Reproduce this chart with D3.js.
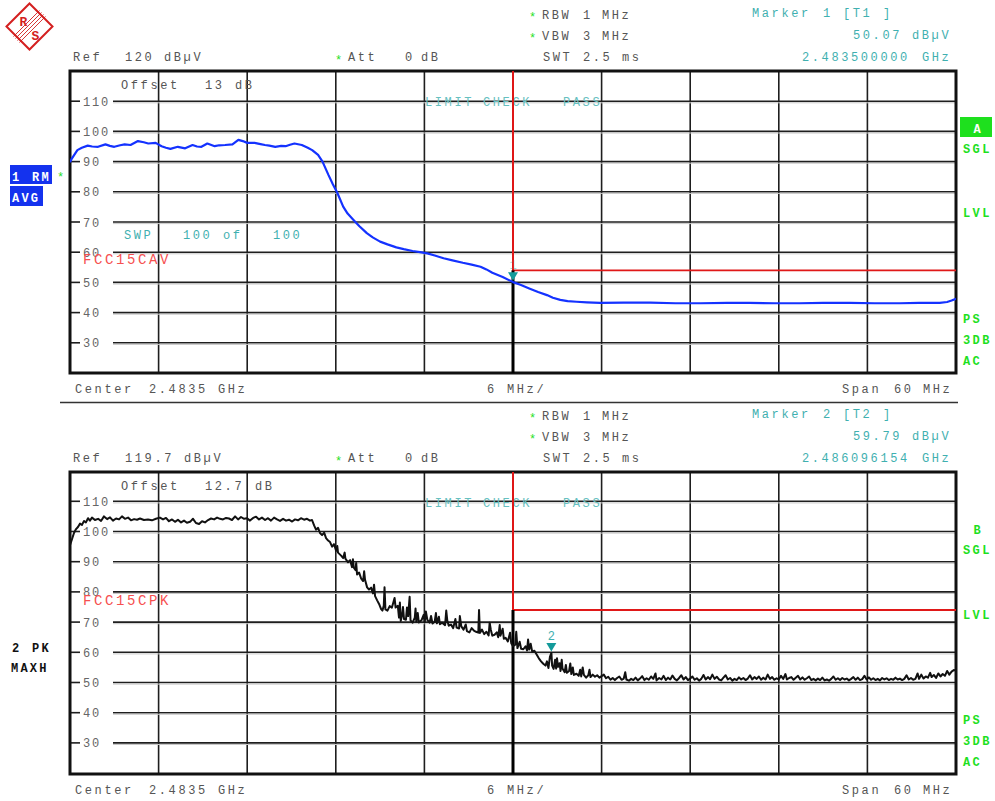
<!DOCTYPE html>
<html>
<head>
<meta charset="utf-8">
<script src="https://cdn.jsdelivr.net/npm/d3@7"></script>
<style>
  body { margin: 0; background: #fff; }
  svg text { font-family: "Liberation Mono", "DejaVu Sans Mono", monospace; white-space: pre; }
</style>
</head>
<body>
<div id="container"></div>
<script>
/* DATA */
const freqStart = 2453.5, freqStop = 2513.5;   // MHz, center 2483.5, span 60
const bandEdge = 2483.5;
const levelTicks = [30, 40, 50, 60, 70, 80, 90, 100, 110];

// trace 1: RM AVG (dBuV)
const avgTrace = [[2453.5,89.8],[2453.6,90.8],[2454.0,93.8],[2454.3,94.6],[2454.7,95.3],[2455.0,95.0],[2455.4,94.9],[2455.9,95.7],[2456.2,95.2],[2456.5,94.9],[2456.9,95.4],[2457.2,95.7],[2457.6,95.5],[2458.1,96.8],[2458.5,96.4],[2458.8,96.0],[2459.3,96.2],[2459.7,95.1],[2460.0,94.6],[2460.3,94.2],[2460.8,94.9],[2461.3,94.4],[2461.8,95.5],[2462.1,95.0],[2462.4,94.9],[2462.8,96.0],[2463.3,95.1],[2463.6,95.4],[2464.0,95.5],[2464.5,95.7],[2464.9,97.2],[2465.2,96.8],[2465.5,96.2],[2466.0,96.2],[2466.4,95.8],[2466.7,95.5],[2467.0,95.3],[2467.4,94.9],[2467.8,95.2],[2468.1,95.1],[2468.4,95.6],[2468.7,96.0],[2469.2,95.5],[2469.6,94.6],[2469.9,93.8],[2470.3,92.2],[2470.6,90.0],[2471.0,85.6],[2471.3,82.5],[2471.6,79.7],[2472.0,75.1],[2472.3,72.8],[2472.7,70.7],[2473.1,68.6],[2473.6,66.3],[2474.0,64.9],[2474.5,63.5],[2475.0,62.6],[2475.6,61.6],[2476.1,61.0],[2476.7,60.4],[2477.2,60.0],[2477.7,59.6],[2478.2,58.9],[2478.8,58.0],[2479.4,57.3],[2480.1,56.5],[2480.7,55.9],[2481.3,55.2],[2481.7,54.3],[2482.1,53.2],[2482.8,51.8],[2483.5,50.1],[2484.0,49.2],[2484.6,48.0],[2485.2,46.8],[2485.8,45.8],[2486.2,44.9],[2486.7,44.2],[2487.2,43.8],[2487.8,43.6],[2488.5,43.4],[2489.4,43.2],[2491.0,43.3],[2492.8,43.3],[2494.5,43.1],[2496.2,43.1],[2498.0,43.2],[2499.5,43.2],[2501.2,43.1],[2502.9,43.1],[2504.5,43.2],[2506.3,43.2],[2508.0,43.1],[2509.7,43.1],[2511.0,43.2],[2512.4,43.2],[2512.9,43.5],[2513.2,44.0],[2513.5,44.6]];

// trace 2: PK MAXH (dBuV)
const pkTrace = [[2453.50,95.5],[2453.64,97.5],[2453.77,99.5],[2453.91,100.8],[2454.04,101.5],[2454.18,102.6],[2454.31,102.2],[2454.45,103.5],[2454.58,103.0],[2454.72,104.4],[2454.85,103.6],[2454.99,104.6],[2455.19,103.8],[2455.40,104.2],[2455.60,103.5],[2455.80,105.0],[2456.01,104.1],[2456.21,104.7],[2456.41,103.6],[2456.62,104.3],[2456.82,104.0],[2457.02,105.0],[2457.22,104.2],[2457.43,104.6],[2457.63,103.7],[2457.84,104.1],[2458.04,103.9],[2458.24,104.3],[2458.51,103.8],[2458.78,104.0],[2459.05,103.7],[2459.32,104.2],[2459.59,104.6],[2459.80,104.0],[2460.00,104.5],[2460.20,103.4],[2460.41,104.0],[2460.61,103.2],[2460.81,103.9],[2461.02,103.0],[2461.22,103.6],[2461.42,102.9],[2461.63,103.2],[2461.83,104.2],[2462.03,102.8],[2462.24,102.5],[2462.44,103.4],[2462.64,103.0],[2462.85,103.8],[2463.05,104.3],[2463.26,104.0],[2463.46,104.6],[2463.66,104.2],[2463.86,104.0],[2464.07,104.5],[2464.27,104.3],[2464.47,103.8],[2464.68,105.0],[2464.88,104.0],[2465.08,104.8],[2465.29,104.2],[2465.49,104.4],[2465.69,103.6],[2465.90,104.5],[2466.10,104.9],[2466.30,104.0],[2466.50,104.6],[2466.71,103.8],[2466.91,104.4],[2467.11,103.6],[2467.32,104.6],[2467.52,104.0],[2467.72,103.5],[2467.93,104.2],[2468.13,103.6],[2468.33,103.9],[2468.54,103.3],[2468.74,104.0],[2468.94,103.7],[2469.14,104.4],[2469.35,103.9],[2469.55,104.2],[2469.75,103.6],
[2469.89,103.8],[2470.03,102.0],[2470.16,100.6],[2470.30,101.2],[2470.43,99.5],[2470.57,98.8],[2470.71,99.6],[2470.84,97.8],[2470.98,97.0],[2471.11,96.5],[2471.25,95.0],[2471.38,95.8],[2471.52,93.6],[2471.60,95.2],[2471.65,93.0],[2471.86,92.0],[2472.00,91.2],[2472.10,93.0],[2472.15,91.0],[2472.33,89.8],[2472.47,90.5],[2472.60,88.2],[2472.66,90.8],[2472.72,88.0],[2472.84,87.2],[2472.88,89.6],[2472.94,85.8],[2473.08,86.4],[2473.21,84.5],[2473.35,83.6],[2473.42,86.8],[2473.48,84.0],[2473.62,81.5],[2473.75,80.8],[2473.89,81.4],[2474.02,79.5],[2474.09,82.4],[2474.16,78.6],[2474.30,77.2],[2474.43,76.0],[2474.57,74.3],[2474.66,73.8],[2474.75,75.5],[2474.80,81.5],[2474.86,74.2],[2475.00,73.8],[2475.15,75.3],[2475.30,74.8],[2475.42,76.9],[2475.48,78.0],[2475.55,74.8],[2475.70,75.4],[2475.78,71.5],[2475.84,76.5],[2475.90,70.4],[2476.00,72.6],[2476.05,75.0],[2476.12,71.0],[2476.25,70.8],[2476.32,74.8],[2476.40,72.0],[2476.50,78.4],[2476.56,70.6],[2476.70,69.8],[2476.85,71.5],[2476.90,74.5],[2476.95,70.2],[2477.05,73.0],[2477.12,69.9],[2477.30,70.6],[2477.45,72.4],[2477.52,69.9],[2477.60,73.5],[2477.70,70.7],[2477.85,69.8],[2477.95,72.0],[2478.05,69.5],[2478.20,70.2],[2478.28,73.0],[2478.35,69.6],[2478.48,71.8],[2478.55,69.3],[2478.70,69.8],[2478.90,69.0],[2478.98,73.8],[2479.05,70.5],[2479.15,68.8],[2479.30,69.2],[2479.45,68.0],[2479.60,71.0],[2479.68,68.2],[2479.85,67.9],[2479.90,72.0],[2480.00,68.6],[2480.15,67.5],[2480.30,69.2],[2480.38,67.0],[2480.55,66.6],[2480.70,68.0],[2480.85,67.2],[2481.00,66.8],[2481.15,66.5],[2481.20,74.0],[2481.26,66.4],[2481.40,67.5],[2481.55,66.0],[2481.70,66.8],[2481.85,65.6],[2481.92,69.8],[2482.00,67.4],[2482.10,65.5],[2482.25,65.8],[2482.40,66.6],[2482.50,65.0],[2482.60,69.0],[2482.65,65.5],[2482.80,67.8],[2482.88,64.5],[2483.00,64.8],[2483.15,63.6],[2483.30,66.5],[2483.38,63.0],[2483.50,62.0],[2483.65,62.5],[2483.72,66.8],[2483.80,61.4],[2483.95,63.5],[2484.05,61.2],[2484.20,61.0],[2484.35,62.0],[2484.45,60.6],[2484.52,64.2],[2484.60,60.9],[2484.70,62.8],[2484.80,60.2],[2484.95,60.5],[2485.10,59.3],[2485.25,58.0],[2485.40,57.0],[2485.55,56.2],[2485.70,55.6],[2485.80,57.0],[2485.90,54.8],[2486.00,58.5],[2486.10,59.8],[2486.15,55.6],[2486.25,54.5],[2486.35,57.5],[2486.42,54.6],[2486.48,58.0],[2486.55,55.2],[2486.65,56.4],[2486.72,53.8],[2486.80,57.5],[2486.85,54.6],[2487.00,53.4],[2487.08,55.8],[2487.15,53.2],[2487.30,53.8],[2487.38,56.3],[2487.45,52.8],[2487.55,55.0],[2487.62,52.5],[2487.80,52.9],[2487.95,52.2],[2488.05,54.2],[2488.12,52.0],[2488.22,55.0],[2488.30,52.5],[2488.45,51.6],[2488.60,52.4],[2488.68,54.2],[2488.75,51.8],[2488.90,52.6],[2489.05,51.9],[2489.20,52.4],[2489.35,51.6],[2489.50,52.1],[2489.65,52.6],[2489.80,51.4],[2489.95,51.9],
[2490.10,50.9],[2490.25,51.5],[2490.40,50.8],[2490.55,51.5],[2490.70,52.0],[2490.85,50.9],[2491.00,51.3],[2491.10,53.4],[2491.18,51.0],[2491.35,50.6],[2491.50,51.2],[2491.65,50.8],[2491.80,51.6],[2491.95,50.7],[2492.10,51.3],[2492.25,52.1],[2492.40,50.8],[2492.55,51.4],[2492.70,50.9],[2492.85,52.0],[2493.00,51.2],[2493.15,53.0],[2493.22,50.7],[2493.40,51.5],[2493.55,51.0],[2493.70,52.2],[2493.85,50.8],[2494.00,51.6],[2494.15,51.0],[2494.30,52.3],[2494.45,51.2],[2494.60,50.7],[2494.75,51.5],[2494.90,52.4],[2495.05,51.0],[2495.20,51.8],[2495.35,50.8],[2495.50,51.3],[2495.65,52.0],[2495.80,50.9],[2495.95,51.4],[2496.10,50.6],[2496.25,51.2],[2496.40,52.5],[2496.55,51.0],[2496.70,51.8],[2496.85,51.1],[2497.00,52.6],[2497.15,51.2],[2497.30,51.9],[2497.45,51.0],[2497.60,50.7],[2497.75,51.6],[2497.90,52.4],[2498.05,51.0],[2498.20,51.5],[2498.35,50.6],[2498.50,51.2],[2498.65,50.8],[2498.80,51.7],[2498.95,51.0],[2499.10,51.5],[2499.25,50.8],[2499.40,51.3],[2499.55,52.4],[2499.70,51.0],[2499.85,51.8],[2500.00,51.2],[2500.15,52.0],[2500.30,50.9],[2500.45,51.6],[2500.60,51.0],[2500.75,52.6],[2500.90,51.2],[2501.05,51.8],[2501.20,50.9],[2501.35,51.4],[2501.50,51.0],[2501.65,52.2],[2501.80,51.2],[2501.95,52.8],[2502.05,51.0],[2502.20,51.5],[2502.35,51.8],[2502.50,50.9],[2502.65,51.6],[2502.80,52.2],[2502.95,51.0],[2503.10,51.7],[2503.25,50.9],[2503.40,51.4],[2503.55,52.0],[2503.70,50.8],[2503.85,51.2],[2504.00,50.7],[2504.15,51.3],[2504.30,50.8],[2504.45,51.6],[2504.60,50.7],[2504.75,51.0],[2504.90,50.6],[2505.05,51.2],[2505.20,52.0],[2505.35,50.9],[2505.50,51.4],[2505.65,50.8],[2505.80,51.5],[2505.95,51.0],[2506.10,51.3],[2506.25,50.7],[2506.40,51.2],[2506.55,51.8],[2506.70,50.9],[2506.85,51.6],[2507.00,50.8],[2507.15,51.1],[2507.30,52.2],[2507.45,51.0],[2507.60,51.7],[2507.75,50.9],[2507.90,51.4],[2508.05,50.8],[2508.20,51.2],[2508.35,50.7],[2508.50,51.5],[2508.65,51.0],[2508.80,51.4],[2508.95,50.8],[2509.10,51.2],[2509.25,50.9],[2509.40,51.6],[2509.55,51.0],[2509.70,51.3],[2509.85,50.8],[2510.00,51.2],[2510.15,52.4],[2510.30,51.0],[2510.45,51.5],[2510.60,50.9],[2510.75,51.2],[2510.90,53.0],[2511.00,51.2],[2511.15,52.6],[2511.30,51.3],[2511.45,52.0],[2511.60,51.6],[2511.75,53.2],[2511.85,51.8],[2512.00,52.5],[2512.15,51.5],[2512.30,53.0],[2512.45,52.0],[2512.60,52.8],[2512.75,52.2],[2512.90,53.8],[2513.05,52.6],[2513.20,53.6],[2513.35,54.1],[2513.50,54.0]];

// per-window settings
const windows = [
  {ref: 120, refText: "120", offset: "13", limit: 54, limitName: "FCC15CAV", trace: avgTrace, color: "#1432ff",
   marker: {n: "1", f: 2483.5, level: 50.07, levelText: "50.07", freqText: "2.483500000"}},
  {ref: 119.7, refText: "119.7", offset: "12.7", limit: 74, limitName: "FCC15CPK", trace: pkTrace, color: "#111",
   marker: {n: "2", f: 2486.096154, level: 59.79, levelText: "59.79", freqText: "2.486096154"}}
];

/* LAYOUT */
const width = 995, height = 801;
const plotLeft = 70, plotRight = 956;
const panelTops = [71, 472], panelHeight = 302, panelShift = 401;
const grey = "#555", teal = "#3fb0b0", green = "#1ee01e";

const svg = d3.select("#container").append("svg")
  .attr("width", width).attr("height", height)
  .style("background", "#fff");

const x = d3.scaleLinear().domain([freqStart, freqStop]).range([plotLeft, plotRight]);
const freqGrid = d3.range(freqStart + 6, freqStop - 1, 6);

function txt(g, xx, yy, s, o = {}) {
  return g.append("text").attr("x", xx).attr("y", yy).text(s)
    .attr("fill", o.fill || grey)
    .attr("font-size", o.size || 12)
    .attr("font-weight", o.bold ? "bold" : null)
    .attr("letter-spacing", o.ls === undefined ? 2.6 : o.ls)
    .attr("text-anchor", o.anchor || "start");
}
function words(g, yy, list, o) { list.forEach(([xx, s]) => txt(g, xx, yy, s, o)); }

// R&S logo
const logo = svg.append("g").attr("transform", "translate(29.5,26.5)");
logo.append("path").attr("d", "M-23,0 L0,-23 L23,0 L0,23 Z")
  .attr("fill", "none").attr("stroke", "#d42020").attr("stroke-width", 2);
[-3, -1, 1, 3].forEach(o => logo.append("line")
  .attr("x1", -13 + o).attr("y1", 13 + o).attr("x2", 13 + o).attr("y2", -13 + o)
  .attr("stroke", "#d42020").attr("stroke-width", 0.9));
txt(logo, -10, -1, "R", {fill: "#d42020", size: 13, bold: true, ls: 0});
txt(logo, 2, 13, "S", {fill: "#d42020", size: 13, bold: true, ls: 0});

// separator between the two windows
svg.append("line").attr("x1", 60).attr("x2", 958).attr("y1", 402.5).attr("y2", 402.5)
  .attr("stroke", "#333").attr("stroke-width", 1.5);

windows.forEach((w, i) => {
  const top = panelTops[i], bottom = top + panelHeight, dy = i * panelShift;
  const y = d3.scaleLinear().domain([w.ref - 100, w.ref]).range([bottom, top]);
  const g = svg.append("g");

  /* header text */
  txt(g, 529, 21 + dy, "*", {fill: green, ls: 0});
  txt(g, 529, 42 + dy, "*", {fill: green, ls: 0});
  words(g, 19 + dy, [[542, "RBW"], [583, "1"], [602, "MHz"]]);
  words(g, 40 + dy, [[542, "VBW"], [583, "3"], [602, "MHz"]]);
  words(g, 61 + dy, [[543, "SWT"], [583, "2.5"], [622, "ms"]]);
  words(g, 17 + dy, [[752, "Marker"], [823, w.marker.n], [843, "[T" + w.marker.n], [883, "]"]], {fill: teal});
  words(g, 39 + dy, [[853, w.marker.levelText], [912, "dBµV"]], {fill: teal});
  words(g, 61 + dy, [[802, w.marker.freqText], [922, "GHz"]], {fill: teal});
  words(g, 61 + dy, [[73, "Ref"], [125, w.refText], [w.refText.length > 3 ? 184 : 164, "dBµV"]]);
  txt(g, 335, 64 + dy, "*", {fill: green, ls: 0});
  words(g, 61 + dy, [[348, "Att"], [405, "0"], [421, "dB"]]);
  words(g, 393 + dy, [[75, "Center"], [149, "2.4835"], [218, "GHz"], [487, "6"], [507, "MHz/"],
                      [842, "Span"], [894, "60"], [923, "MHz"]]);

  /* vertical grid */
  g.selectAll(".vgrid").data(freqGrid).join("line").attr("class", "vgrid")
    .attr("x1", d => x(d)).attr("x2", d => x(d)).attr("y1", top).attr("y2", bottom)
    .attr("stroke", "#1e1e1e").attr("stroke-width", 1.6);

  /* horizontal grid with gap for labels */
  const hg = g.selectAll(".hgrid").data(levelTicks).join("g").attr("class", "hgrid");
  hg.append("line").attr("x1", plotLeft).attr("x2", 80)
    .attr("y1", d => y(d)).attr("y2", d => y(d)).attr("stroke", "#1e1e1e").attr("stroke-width", 1.6);
  hg.append("line").attr("x1", 113).attr("x2", plotRight)
    .attr("y1", d => y(d)).attr("y2", d => y(d)).attr("stroke", "#1e1e1e").attr("stroke-width", 1.6);
  hg.append("line").attr("x1", 113).attr("x2", plotRight)
    .attr("y1", d => y(d) + 1.6).attr("y2", d => y(d) + 1.6).attr("stroke", "#c8c8c8").attr("stroke-width", 1);
  hg.append("text").attr("x", 83).attr("y", d => y(d) + 4.5).text(d => d)
    .attr("fill", "#666").attr("font-size", 12).attr("letter-spacing", 1.8);

  /* frame */
  g.append("rect").attr("x", plotLeft).attr("y", top)
    .attr("width", plotRight - plotLeft).attr("height", bottom - top)
    .attr("fill", "none").attr("stroke", "#111").attr("stroke-width", 3);

  /* in-plot texts */
  words(g, 89 + dy, [[121, "Offset"], [205, w.offset], [w.offset.length > 2 ? 255 : 235, "dB"]]);
  words(g, 106 + dy, [[425, "LIMIT"], [483, "CHECK"], [563, "PASS"]], {fill: "#66c0c0"});
  txt(g, 83, i === 0 ? 264 : 605, w.limitName, {fill: "#f65050", size: 14});
  if (i === 0) {
    words(g, 239, [[124, "SWP"], [183, "100"], [223, "of"], [273, "100"]], {fill: teal});
  }

  /* limit line and band edge */
  const yLim = y(w.limit);
  g.append("path")
    .attr("d", `M${x(bandEdge)},${top} L${x(bandEdge)},${yLim} L${plotRight},${yLim}`)
    .attr("fill", "none").attr("stroke", "#e01818").attr("stroke-width", 1.8);
  g.append("line").attr("x1", x(bandEdge)).attr("x2", x(bandEdge)).attr("y1", yLim).attr("y2", bottom)
    .attr("stroke", "#000").attr("stroke-width", 3);

  /* trace */
  const clipId = "clip" + i;
  g.append("clipPath").attr("id", clipId).append("rect")
    .attr("x", plotLeft).attr("y", top).attr("width", plotRight - plotLeft).attr("height", bottom - top);
  const line = d3.line().x(d => x(d[0])).y(d => y(d[1]));
  g.append("path").datum(w.trace).attr("d", line).attr("clip-path", `url(#${clipId})`)
    .attr("fill", "none").attr("stroke", w.color)
    .attr("stroke-width", i === 0 ? 2.2 : 2).attr("stroke-linejoin", "round");

  /* marker */
  const mx = x(w.marker.f), my = y(w.marker.level);
  g.append("path").attr("d", `M${mx - 5},${my - 10} L${mx + 5},${my - 10} L${mx},${my - 1.5} Z`)
    .attr("fill", "#139a9a");
  txt(g, mx, my - 13, w.marker.n, {fill: i === 0 ? "#9fd6d6" : teal, anchor: "middle", ls: 0});
  g.append("path").attr("d", `M${x(bandEdge)},${top} L${x(bandEdge)},${yLim}`)
    .attr("stroke", "#e01818").attr("stroke-width", 1.8).attr("fill", "none");

  /* left trace labels */
  if (i === 0) {
    g.append("rect").attr("x", 10).attr("y", 165).attr("width", 42).attr("height", 19).attr("fill", "#1432ee");
    g.append("rect").attr("x", 10).attr("y", 186).attr("width", 33).attr("height", 20).attr("fill", "#1432ee");
    words(g, 181, [[12, "1"], [32, "RM"]], {fill: "#fff", bold: true, ls: 2.4});
    txt(g, 12, 202, "AVG", {fill: "#fff", bold: true, ls: 2.2});
    txt(g, 57, 181, "*", {fill: green, ls: 0});
  } else {
    words(g, 652, [[12, "2"], [32, "PK"]], {fill: "#111", bold: true, ls: 2.4});
    txt(g, 11, 672, "MAXH", {fill: "#111", bold: true, ls: 2.2});
  }

  /* right status labels */
  if (i === 0) {
    g.append("rect").attr("x", 960).attr("y", 117).attr("width", 32).attr("height", 20).attr("fill", green);
    txt(g, 977, 133, "A", {fill: "#fff", bold: true, anchor: "middle", ls: 0});
  } else {
    txt(g, 977, 534, "B", {fill: green, bold: true, anchor: "middle", ls: 0});
  }
  const rightLabels = [["SGL", 153], ["LVL", 217], ["PS", 323], ["3DB", 344], ["AC", 365]];
  rightLabels.forEach(([s, yy]) => txt(g, 963, yy + dy + (i === 1 && s === "LVL" ? 1 : 0), s,
    {fill: green, bold: true, ls: 2.4}));
});
</script>
</body>
</html>
